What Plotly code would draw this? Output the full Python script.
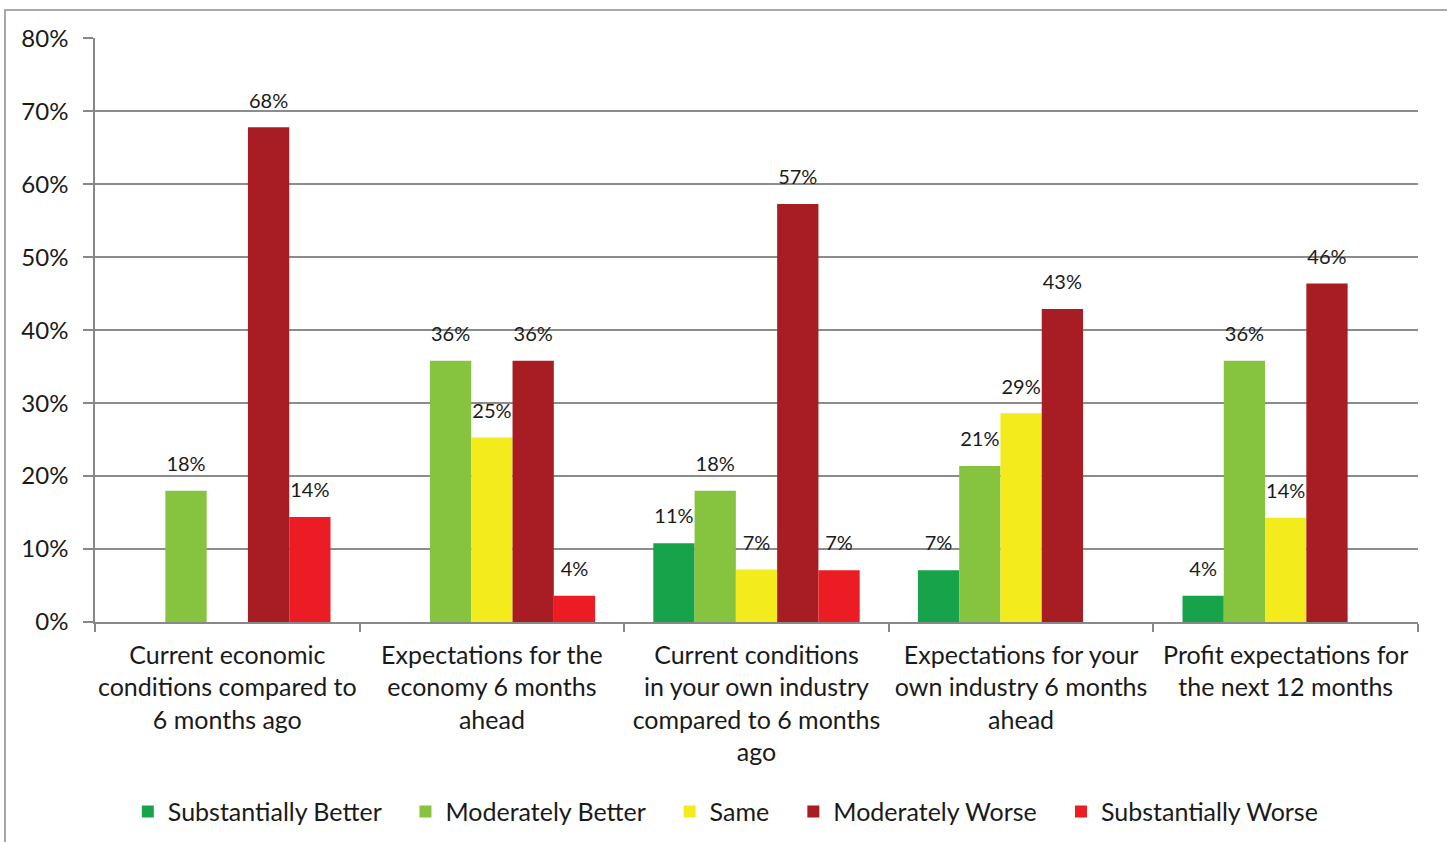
import plotly.graph_objects as go

categories = [
    "Current economic<br>conditions compared to<br>6 months ago",
    "Expectations for the<br>economy 6 months<br>ahead",
    "Current conditions<br>in your own industry<br>compared to 6 months<br>ago",
    "Expectations for your<br>own industry 6 months<br>ahead",
    "Profit expectations for<br>the next 12 months",
]

substantially_better = [None, None, 10.8, 7.1, 3.6]
moderately_better = [18.0, 35.8, 18.0, 21.4, 35.8]
same = [None, 25.3, 7.2, 28.6, 14.3]
moderately_worse = [67.8, 35.8, 57.3, 42.9, 46.4]
substantially_worse = [14.4, 3.6, 7.1, None, None]

series = [
    ("Substantially Better", substantially_better, "#17a34a"),
    ("Moderately Better", moderately_better, "#86c440"),
    ("Same", same, "#f3eb1c"),
    ("Moderately Worse", moderately_worse, "#a81c24"),
    ("Substantially Worse", substantially_worse, "#ec1c24"),
]

FONT = "Lato, 'Noto Sans', sans-serif"
GAP = 0.22
PAD = "\u00a0" * 3

fig = go.Figure()
for i, (name, vals, color) in enumerate(series):
    fig.add_trace(go.Bar(
        name=name + PAD,
        x=categories,
        y=vals,
        offsetgroup=str(i),
        marker=dict(color=color, line=dict(width=0)),
        hoverinfo="skip",
    ))

# value labels, placed over each bar through grouped scatter positioning
for i, (name, vals, color) in enumerate(series):
    fig.add_trace(go.Scatter(
        x=categories,
        y=vals,
        offsetgroup=str(i),
        mode="markers+text",
        marker=dict(size=22, opacity=0),
        text=[None if v is None else f"{round(v):.0f}%" for v in vals],
        textposition="top center",
        textfont=dict(family=FONT, size=20, color="#1a1a1a"),
        showlegend=False,
        hoverinfo="skip",
        cliponaxis=False,
    ))

fig.update_layout(
    width=1447,
    height=842,
    margin=dict(l=95, r=29, t=38, b=220, autoexpand=False),
    paper_bgcolor="white",
    plot_bgcolor="white",
    barmode="group",
    bargap=GAP,
    bargroupgap=0,
    scattermode="group",
    scattergap=GAP,
    font=dict(family=FONT, color="#1a1a1a"),
    legend=dict(
        orientation="h",
        x=0.484,
        xanchor="center",
        y=-0.325,
        yanchor="middle",
        font=dict(family=FONT, size=25, color="#1a1a1a"),
        itemwidth=30,
        traceorder="normal",
    ),
    xaxis=dict(
        showline=True,
        linecolor="#888888",
        linewidth=1.5,
        ticks="outside",
        tickson="boundaries",
        ticklen=8,
        tickcolor="#888888",
        tickwidth=1.5,
        tickangle=0,
        automargin=False,
        tickfont=dict(family=FONT, size=25, color="#1a1a1a"),
        ticklabelstandoff=10,
        showgrid=False,
    ),
    yaxis=dict(
        range=[0, 80.05],
        dtick=10,
        ticksuffix="%",
        showline=True,
        linecolor="#888888",
        linewidth=1.5,
        ticks="outside",
        ticklen=10,
        tickcolor="#888888",
        tickwidth=1.5,
        automargin=False,
        showgrid=True,
        gridcolor="#8c8c8c",
        gridwidth=1.5,
        tickfont=dict(family=FONT, size=24, color="#1a1a1a"),
        ticklabelstandoff=10,
        zeroline=False,
    ),
    shapes=[
        dict(
            type="rect", xref="paper", yref="paper",
            x0=-90 / 1323, x1=1.2, y0=-0.6, y1=(622 - 10) / 584,
            line=dict(color="#8c8c8c", width=1.5),
            fillcolor="rgba(0,0,0,0)",
            layer="below",
        )
    ],
)

fig.write_html("out.html")
